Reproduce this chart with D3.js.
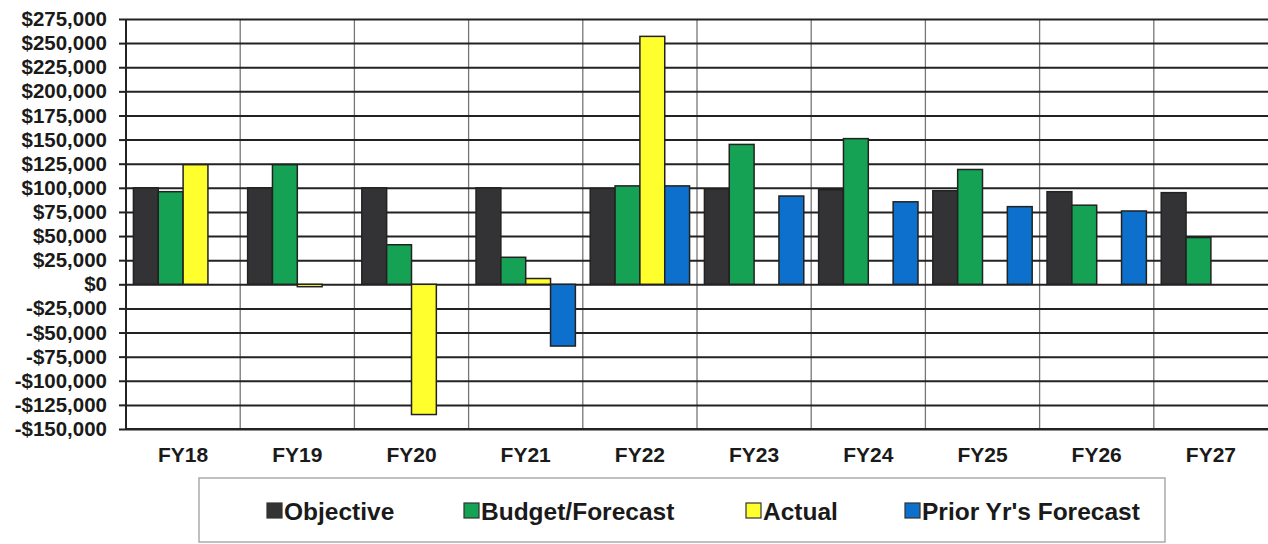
<!DOCTYPE html>
<html>
<head>
<meta charset="utf-8">
<script src="https://cdn.jsdelivr.net/npm/d3@7"></script>
<style>
  body { margin: 0; background: #fff; }
  svg text { font-family: "Liberation Sans", Arial, sans-serif; font-weight: bold; fill: #1a1a1a; }
</style>
</head>
<body>
<script>
// chart data
const years = ["FY18", "FY19", "FY20", "FY21", "FY22", "FY23", "FY24", "FY25", "FY26", "FY27"];
const seriesNames = ["Objective", "Budget/Forecast", "Actual", "Prior Yr's Forecast"];
const objective = [100000, 100000, 100000, 100000, 99500, 99000, 98000, 97000, 96000, 95000];
const budget = [96000, 124000, 41000, 28000, 102000, 145000, 151000, 119000, 82000, 48500];
const actual = [124000, -2500, -135000, 6000, 257000, null, null, null, null, null];
const priorForecast = [null, null, null, -64000, 102000, 91500, 85500, 80500, 76000, null];
const yTicks = d3.range(-150000, 275001, 25000);

const seriesColors = ["#333336", "#16a254", "#ffff2e", "#0c70cc"];

let width = 1268,
  height = 544;

window.onload = function () {
  let svg = d3.select("body")
    .append("svg")
    .attr("width", width)
    .attr("height", height);

  let left = 126, right = 1268, top = 19, bottom = 429;

  let x0 = d3.scaleBand().domain(years).range([left, right]);
  let bw = x0.bandwidth();
  let x1 = d3.scaleBand().domain(seriesNames).range([bw * 0.065, bw * 0.935]);
  let y = d3.scaleLinear().domain([-150000, 275000]).range([bottom, top]);

  // vertical grid lines (category separators)
  svg.append("g")
    .selectAll("line")
    .data(years.slice(1))
    .join("line")
    .attr("x1", d => x0(d))
    .attr("x2", d => x0(d))
    .attr("y1", top)
    .attr("y2", bottom)
    .attr("stroke", "#777")
    .attr("stroke-width", 1.3);

  // y axis with horizontal grid lines
  let fmt = v => (v < 0 ? "-$" : "$") + d3.format(",")(Math.abs(v));
  let yAxis = svg.append("g")
    .attr("transform", `translate(${left},0)`)
    .call(d3.axisLeft(y).tickValues(yTicks).tickFormat(fmt).tickSize(7).tickPadding(12));
  yAxis.select(".domain").remove();
  yAxis.selectAll(".tick line")
    .attr("stroke", "#222")
    .attr("stroke-width", 2);
  yAxis.selectAll(".tick")
    .append("line")
    .attr("x1", 0)
    .attr("x2", right - left)
    .attr("stroke", "#222")
    .attr("stroke-width", 2);
  yAxis.selectAll(".tick text")
    .attr("font-size", "20.5px")
    .attr("fill", "#1a1a1a");

  // left axis line
  svg.append("line")
    .attr("x1", left).attr("x2", left)
    .attr("y1", top).attr("y2", bottom)
    .attr("stroke", "#222")
    .attr("stroke-width", 2);

  // bars
  let allSeries = [objective, budget, actual, priorForecast];
  let rows = [];
  years.forEach((yr, i) => {
    seriesNames.forEach((s, j) => {
      let v = allSeries[j][i];
      if (v !== null) rows.push({ year: yr, series: s, idx: j, value: v });
    });
  });

  svg.append("g")
    .selectAll("rect")
    .data(rows)
    .join("rect")
    .attr("x", d => x0(d.year) + x1(d.series))
    .attr("width", x1.bandwidth())
    .attr("y", d => y(Math.max(0, d.value)))
    .attr("height", d => Math.abs(y(d.value) - y(0)))
    .attr("fill", d => seriesColors[d.idx])
    .attr("stroke", "#222")
    .attr("stroke-width", 1.5);

  // x axis labels
  let xAxis = svg.append("g")
    .attr("transform", `translate(0,${bottom})`)
    .call(d3.axisBottom(x0).tickSize(0).tickPadding(18));
  xAxis.select(".domain").remove();
  xAxis.selectAll(".tick text")
    .attr("font-size", "21px")
    .attr("fill", "#1a1a1a");

  // bottom line
  svg.append("line")
    .attr("x1", left).attr("x2", right)
    .attr("y1", bottom).attr("y2", bottom)
    .attr("stroke", "#222")
    .attr("stroke-width", 2);

  // legend
  drawLegend(svg);
}

// draws the legend box under the chart
function drawLegend(svg) {
  let legendX = [267, 464, 746, 905];
  let legend = svg.append("g");

  legend.append("rect")
    .attr("x", 199)
    .attr("y", 478)
    .attr("width", 966)
    .attr("height", 64)
    .attr("fill", "#fff")
    .attr("stroke", "#aaa")
    .attr("stroke-width", 1.5);

  let items = legend.selectAll("g.item")
    .data(seriesNames)
    .join("g")
    .attr("class", "item")
    .attr("transform", (d, i) => `translate(${legendX[i]},503)`);

  items.append("rect")
    .attr("width", 15)
    .attr("height", 15)
    .attr("fill", (d, i) => seriesColors[i])
    .attr("stroke", "#333")
    .attr("stroke-width", 1.2);

  items.append("text")
    .attr("x", 17)
    .attr("y", 17)
    .attr("font-size", "24.5px")
    .text(d => d);
}
</script>
</body>
</html>
